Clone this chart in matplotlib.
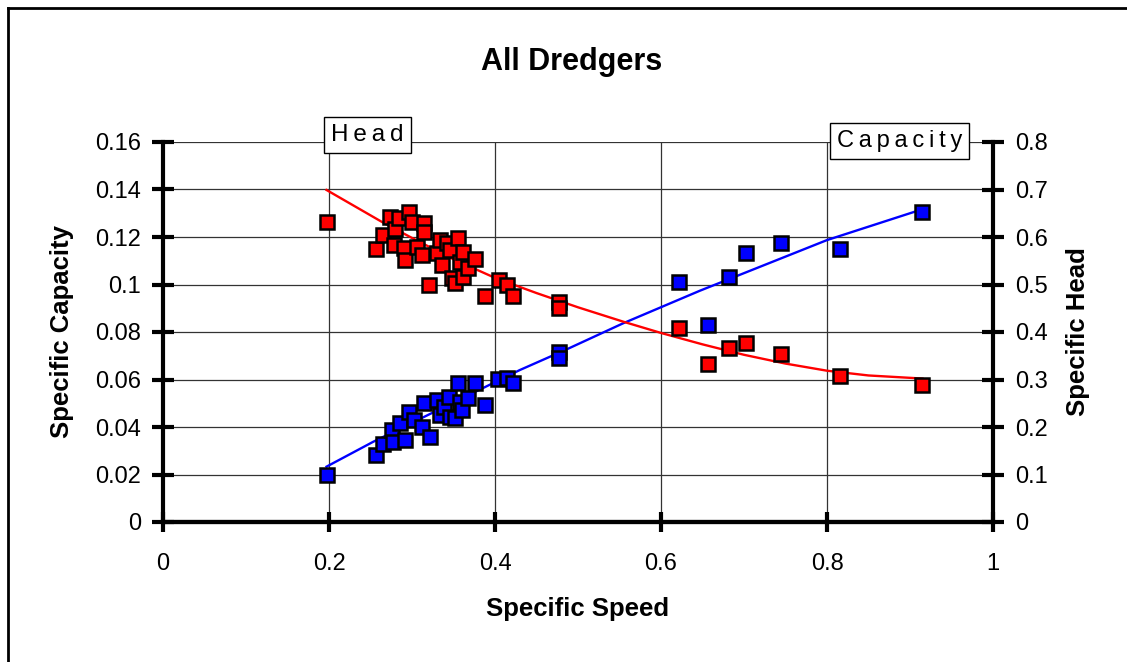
import matplotlib.pyplot as plt
from matplotlib.lines import Line2D
from matplotlib.ticker import FuncFormatter

plt.rcParams['font.family'] = ['Liberation Sans', 'DejaVu Sans']

# capacity points (left axis)
cap_speed = [0.198, 0.257, 0.265, 0.276, 0.277, 0.285, 0.292, 0.296, 0.302, 0.312,
             0.314, 0.322, 0.330, 0.334, 0.338, 0.344, 0.346, 0.352, 0.356, 0.358,
             0.360, 0.368, 0.376, 0.388, 0.404, 0.414, 0.422, 0.477, 0.477, 0.622,
             0.657, 0.682, 0.702, 0.745, 0.816, 0.915]
capacity = [0.0198, 0.0282, 0.0328, 0.0387, 0.0338, 0.0415, 0.0345, 0.0465, 0.0429, 0.0401,
            0.0500, 0.0359, 0.0514, 0.0451, 0.0486, 0.0528, 0.0443, 0.0437, 0.0584, 0.0507,
            0.0472, 0.0521, 0.0584, 0.0493, 0.0601, 0.0605, 0.0587, 0.0716, 0.0690, 0.1012,
            0.0829, 0.1030, 0.1134, 0.1176, 0.1148, 0.1305]

# head points (right axis)
head_speed = [0.198, 0.257, 0.265, 0.273, 0.278, 0.280, 0.284, 0.290, 0.292, 0.296,
              0.300, 0.306, 0.312, 0.314, 0.314, 0.321, 0.330, 0.334, 0.336, 0.342,
              0.346, 0.348, 0.352, 0.356, 0.358, 0.362, 0.362, 0.368, 0.376, 0.388,
              0.405, 0.414, 0.422, 0.477, 0.477, 0.622, 0.657, 0.682, 0.702, 0.745,
              0.816, 0.915]
head = [0.632, 0.575, 0.604, 0.643, 0.583, 0.616, 0.639, 0.576, 0.552, 0.653,
        0.632, 0.580, 0.562, 0.629, 0.611, 0.500, 0.566, 0.594, 0.541, 0.587,
        0.573, 0.513, 0.503, 0.597, 0.548, 0.569, 0.516, 0.534, 0.553, 0.476,
        0.509, 0.499, 0.476, 0.463, 0.451, 0.409, 0.332, 0.366, 0.376, 0.354,
        0.308, 0.288]

# trend lines
cap_trend_x = [0.197, 0.2534, 0.43, 0.4864, 0.5546, 0.647, 0.8, 0.915]
cap_trend_y = [0.0233, 0.0338, 0.064, 0.0727, 0.0837, 0.0974, 0.1187, 0.1317]
head_trend_x = [0.197, 0.2655, 0.3, 0.35, 0.4, 0.45, 0.5, 0.5546, 0.6, 0.65, 0.7,
                0.75, 0.8, 0.85, 0.915]
head_trend_y = [0.699, 0.630, 0.598, 0.553, 0.514, 0.482, 0.452, 0.4217, 0.398, 0.374,
                0.352, 0.3335, 0.3185, 0.3085, 0.302]

x_ticks = [0, 0.2, 0.4, 0.6, 0.8, 1]
cap_ticks = [0, 0.02, 0.04, 0.06, 0.08, 0.1, 0.12, 0.14, 0.16]
head_ticks = [0, 0.1, 0.2, 0.3, 0.4, 0.5, 0.6, 0.7, 0.8]

W, H = 1127, 662
fig = plt.figure(figsize=(W / 100, H / 100), dpi=100)
ax = fig.add_axes([163 / W, 1 - 522 / H, (993 - 163) / W, (522 - 142) / H])
ax2 = ax.twinx()

ax.set_xlim(0, 1)
ax.set_ylim(0, 0.16)
ax2.set_ylim(0, 0.8)
ax.set_xticks(x_ticks)
ax.set_yticks(cap_ticks)
ax2.set_yticks(head_ticks)
fmt = FuncFormatter(lambda v, p: '{:g}'.format(round(v, 4)))
ax.xaxis.set_major_formatter(fmt)
ax.yaxis.set_major_formatter(fmt)
ax2.yaxis.set_major_formatter(fmt)

ax.grid(True, color='#333333', lw=0.9)
ax.set_axisbelow(True)

for a in (ax, ax2):
    a.spines['top'].set_visible(False)
    for s in ('left', 'right', 'bottom'):
        a.spines[s].set_linewidth(3)
    a.tick_params(direction='inout', length=16, width=3, labelsize=17, pad=8)
ax2.spines['left'].set_visible(False)
ax.spines['right'].set_visible(False)
ax.tick_params(axis='x', length=15, pad=14.5)

ax.plot(cap_trend_x, cap_trend_y, color='#0000FF', lw=1.7, zorder=2)
ax.plot(cap_speed, capacity, 's', ms=10, mfc='#0000FF', mec='black', mew=1.8, zorder=3)
ax2.plot(head_trend_x, head_trend_y, color='#FF0000', lw=1.7, zorder=2)
ax2.plot(head_speed, head, 's', ms=10, mfc='#FF0000', mec='black', mew=1.8, zorder=3)

fig.text(578 / W, 1 - 609 / H, 'Specific Speed', fontsize=18.5, fontweight='bold',
         ha='center', va='center')
fig.text(62 / W, 1 - 332 / H, 'Specific Capacity', fontsize=18.5, fontweight='bold',
         ha='center', va='center', rotation=90)
fig.text(1078 / W, 1 - 332 / H, 'Specific Head', fontsize=18.5, fontweight='bold',
         ha='center', va='center', rotation=90)

fig.text(572 / W, 1 - 62 / H, 'All Dredgers', fontsize=22, fontweight='bold',
         ha='center', va='center')

box = dict(boxstyle='square,pad=0.3', fc='white', ec='black', lw=1)
fig.text(367.5 / W, 1 - 135 / H, 'H\u2009e\u2009a\u2009d', fontsize=17.5,
         ha='center', va='center', bbox=box)
fig.text(899.5 / W, 1 - 141 / H, 'C\u2009a\u2009p\u2009a\u2009c\u2009i\u2009t\u2009y',
         fontsize=17, ha='center', va='center', bbox=box)

# outer chart frame (left and top edges)
fig.add_artist(Line2D([7.5 / W, 7.5 / W], [0, 1 - 7.5 / H], transform=fig.transFigure,
                      color='black', lw=2))
fig.add_artist(Line2D([7.5 / W, 1], [1 - 7.5 / H, 1 - 7.5 / H], transform=fig.transFigure,
                      color='black', lw=2))

fig.savefig('out.png', dpi=100)
